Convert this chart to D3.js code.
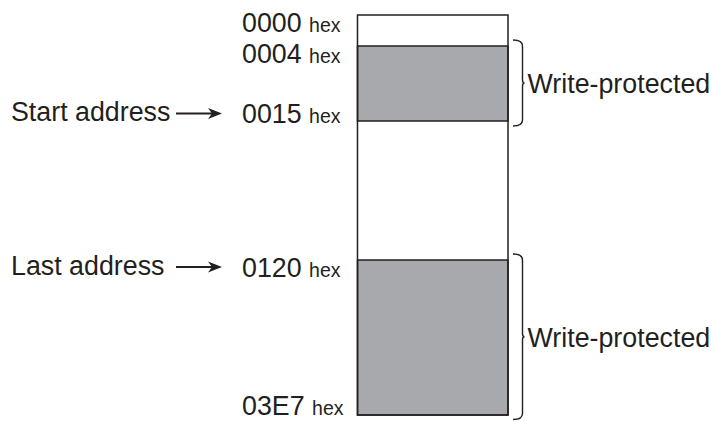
<!DOCTYPE html>
<html>
<head>
<meta charset="utf-8">
<script src="https://cdn.jsdelivr.net/npm/d3@7"></script>
<style>
  html, body { margin: 0; padding: 0; background: #ffffff; }
  svg { display: block; }
  text { font-family: "Liberation Sans", Arial, Helvetica, sans-serif; fill: #231f20; }
</style>
</head>
<body>
<script>
// ---- data ----
const addressLabels = ["0000", "0004", "0015", "0120", "03E7"];
const addressValues = [0x0000, 0x0004, 0x0015, 0x0120, 0x03E7];
const labelKinds = ["start", "start", "end", "start", "end"]; // label hangs below or sits on boundary
const protectedRanges = [[0x0004, 0x0015], [0x0120, 0x03E7]];
const protectedLabel = "Write-protected";
const pointerLabels = ["Start address", "Last address"];
const pointerTargets = [0x0015, 0x0120];
const hexSuffix = "hex";

// ---- layout ----
const W = 712, H = 421;
const ink = "#231f20", shade = "#a7a9ac";
const FS = 26.8, FSsmall = 19.5;
const svg = d3.select("body").append("svg").attr("width", W).attr("height", H);

// schematic (non-proportional) memory axis
const y = d3.scaleLinear().domain(addressValues).range([15, 46, 121, 260, 415]);
const x = d3.scaleLinear().domain([0, 1]).range([357.5, 508]);

// protected blocks
svg.selectAll("rect.prot").data(protectedRanges).join("rect")
  .attr("class", "prot")
  .attr("x", x(0)).attr("width", x(1) - x(0))
  .attr("y", d => y(d[0])).attr("height", d => y(d[1]) - y(d[0]))
  .attr("fill", shade).attr("stroke", ink).attr("stroke-width", 1.5);

// outer frame
svg.append("rect")
  .attr("x", x(0)).attr("y", y(addressValues[0]))
  .attr("width", x(1) - x(0))
  .attr("height", y(addressValues[addressValues.length - 1]) - y(addressValues[0]))
  .attr("fill", "none").attr("stroke", ink).attr("stroke-width", 1.5);

// address labels
const labY = i => Math.min(H - 6.5, y(addressValues[i]) + (labelKinds[i] === "start" ? 16.5 : 2));
const lab = svg.selectAll("text.addr").data(addressLabels).join("text")
  .attr("class", "addr")
  .attr("x", 242)
  .attr("y", (d, i) => labY(i));
lab.append("tspan").attr("font-size", FS).text(d => d + " ");
lab.append("tspan").attr("font-size", FSsmall).text(hexSuffix);

// braces
const bx0 = x(1) + 5, bx1 = x(1) + 14.5;
function bracePath(t, b) {
  const m = (t + b) / 2, r = 6;
  return `M${bx0},${t} Q${bx1},${t} ${bx1},${t + r} L${bx1},${m - 3} Q${bx1},${m} ${bx1 + 2},${m} ` +
         `Q${bx1},${m} ${bx1},${m + 3} L${bx1},${b - r} Q${bx1},${b} ${bx0},${b}`;
}
svg.selectAll("path.brace").data(protectedRanges).join("path")
  .attr("class", "brace")
  .attr("d", d => bracePath(y(d[0]) - 6, Math.min(H - 1.5, y(d[1]) + 5)))
  .attr("fill", "none").attr("stroke", ink).attr("stroke-width", 1.4);

svg.selectAll("text.prot").data(protectedRanges).join("text")
  .attr("class", "prot")
  .attr("x", 527.5)
  .attr("y", d => (y(d[0]) + y(d[1])) / 2 + 9)
  .attr("font-size", FS)
  .text(protectedLabel);

// pointers
const ptrY = v => labY(addressValues.indexOf(v)) - 9.5;
svg.selectAll("text.ptr").data(pointerLabels).join("text")
  .attr("class", "ptr")
  .attr("x", 11)
  .attr("y", (d, i) => ptrY(pointerTargets[i]) + 7.5)
  .attr("font-size", FS)
  .text(d => d);

const ax0 = 176, ax1 = 222;
svg.selectAll("line.arrow").data(pointerTargets).join("line")
  .attr("class", "arrow")
  .attr("x1", ax0).attr("x2", ax1 - 8)
  .attr("y1", d => ptrY(d)).attr("y2", d => ptrY(d))
  .attr("stroke", ink).attr("stroke-width", 2);
svg.selectAll("path.head").data(pointerTargets).join("path")
  .attr("class", "head")
  .attr("d", d => {
    const yy = ptrY(d);
    return `M${ax1},${yy} L${ax1 - 14},${yy - 5.5} L${ax1 - 10},${yy} L${ax1 - 14},${yy + 5.5} Z`;
  })
  .attr("fill", ink);
</script>
</body>
</html>
